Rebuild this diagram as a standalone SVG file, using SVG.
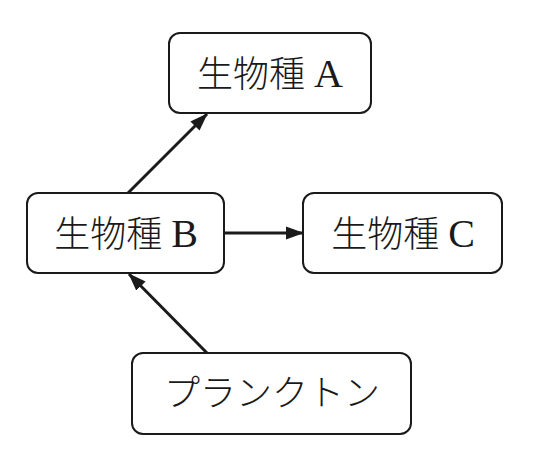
<svg xmlns="http://www.w3.org/2000/svg" width="535" height="466" viewBox="0 0 535 466">
<style>
.box{fill:#fff;stroke:#1a1a1a;stroke-width:2}
.lbl{font-family:"Liberation Serif","Noto Sans CJK JP",serif;font-size:36px;fill:#1a1a1a;text-anchor:middle;font-weight:300}
.lat{font-size:40px}
.edge{stroke:#1a1a1a;stroke-width:3;fill:none}
</style>
<defs>
<marker id="ah" markerUnits="userSpaceOnUse" markerWidth="20" markerHeight="16" refX="17" refY="8" orient="auto">
<path d="M0,1.5 L18,8 L0,14.5 Z" fill="#1a1a1a"/>
</marker>
</defs>
<rect width="535" height="466" fill="#fff"/>
<g id="connectors">
<line class="edge" x1="128" y1="193" x2="207" y2="114" marker-end="url(#ah)"/>
<line class="edge" x1="225" y1="233" x2="303" y2="233" marker-end="url(#ah)"/>
<line class="edge" x1="207" y1="353" x2="129" y2="274" marker-end="url(#ah)"/>
</g>
<g id="nodeA">
<rect class="box" x="169" y="33" width="202" height="80" rx="11"/>
<text class="lbl" x="270" y="87">生物種 <tspan class="lat">A</tspan></text>
</g>
<g id="nodeB">
<rect class="box" x="27" y="193" width="197" height="80" rx="11"/>
<text class="lbl" x="126" y="247">生物種 <tspan class="lat">B</tspan></text>
</g>
<g id="nodeC">
<rect class="box" x="303" y="193" width="199" height="80" rx="11"/>
<text class="lbl" x="403" y="247">生物種 <tspan class="lat">C</tspan></text>
</g>
<g id="nodeP">
<rect class="box" x="132" y="353" width="279" height="81" rx="11"/>
<text class="lbl" x="272" y="406">プランクトン</text>
</g>
</svg>
